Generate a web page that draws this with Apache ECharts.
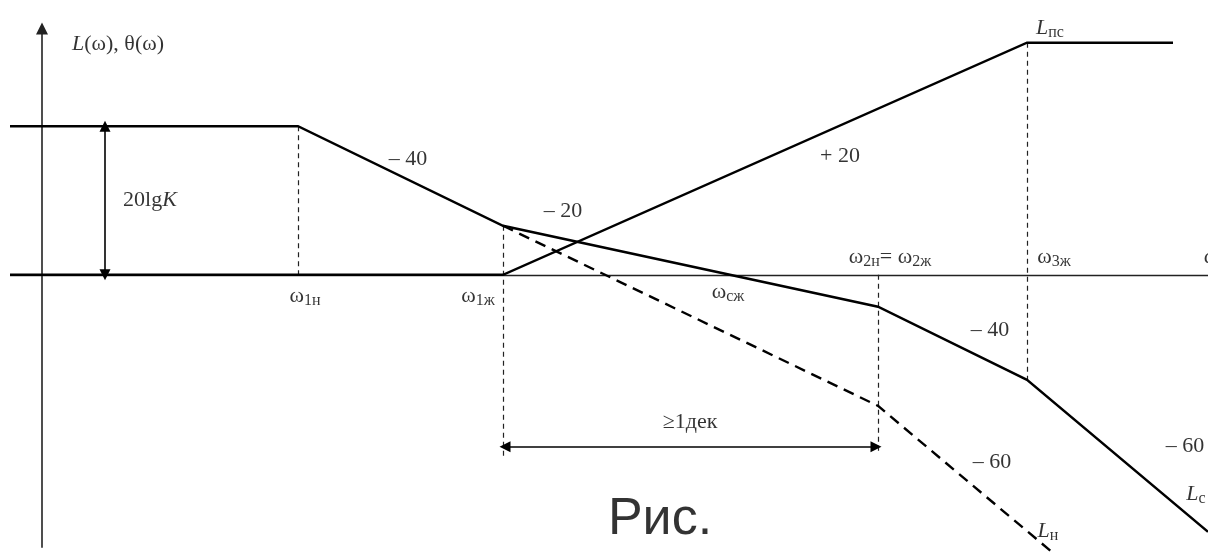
<!DOCTYPE html>
<html>
<head>
<meta charset="utf-8">
<script src="https://cdn.jsdelivr.net/npm/echarts@6/dist/echarts.min.js"></script>
<style>
html,body{margin:0;padding:0;background:#fff;}
#c{width:1208px;height:557px;}
</style>
</head>
<body>
<div id="c"></div>
<script>
// ---- data (x: log-frequency units, y: dB units) ----
const xMin = -0.42, xMax = 11.66, yMin = -76, yMax = 74;

// corrected system L_c
const lcX = [-0.32, 2.56, 4.61, 8.36, 9.85, 11.66];
const lcY = [40, 40, 13.2, -8.6, -28.3, -69.2];
// uncorrected L_н (dashed)
const lnX = [4.61, 8.36, 10.11];
const lnY = [13.2, -35.3, -74.9];
// corrector L_пс
const lpsX = [-0.32, 4.61, 9.85, 11.31];
const lpsY = [0, 0, 62.5, 62.5];

// break frequencies (dashed verticals): x, yTop, yBottom
const vX = [2.56, 4.61, 8.36, 9.85];
const vTop = [40, 13.2, 0, 62.5];
const vBot = [0, -49.5, -48.2, -28.3];

// axes
const axisV = [[0, -73.5], [0, 66.3]];
const axisH = [[-0.32, 0], [11.66, 0]];
// dimension arrows
const gainArrow = [[0.63, 0], [0.63, 40]];
const decadeArrow = [[4.63, -46.3], [8.34, -46.3]];

// text labels
const labelText = [
  '{i|L}{m|(ω), θ(ω)}', '{m|20lg}{i|K}', '{m|– 40}', '{m|– 20}', '{m|+ 20}',
  '{i|L}{s|пс}', '{m|ω}{s|2н}{m|= ω}{s|2ж}', '{m|ω}{s|3ж}', '{m|ω}',
  '{m|ω}{s|1н}', '{m|ω}{s|1ж}', '{m|ω}{s|сж}', '{m|– 40}', '{m|– 60}', '{m|– 60}',
  '{i|L}{s|н}', '{i|L}{s|с}', '{m|≥1дек}', '{r|Рис.}'
];
const labelX = [0.76, 1.08, 3.66, 5.21, 7.98, 10.08, 8.48, 10.12, 11.69,
  2.63, 4.36, 6.86, 9.48, 11.43, 9.5, 10.06, 11.54, 6.48, 6.18];
const labelY = [62, 20.2, 31.0, 17.0, 31.8, 66.5, 4.6, 4.6, 4.6,
  -5.9, -5.9, -4.6, -14.8, -46.3, -50.6, -69.0, -59.0, -39.6, -66.0];

// ---- build ----
const zip = (xs, ys) => xs.map((x, i) => [x, ys[i]]);
const verticals = vX.map((x, i) => ({ coords: [[x, vTop[i]], [x, vBot[i]]] }));
const labels = labelText.map((t, i) => ({ value: [labelX[i], labelY[i]], name: t }));

const serif = '"Liberation Serif", "Times New Roman", serif';
const rich = {
  m: { fontFamily: serif, fontSize: 22, lineHeight: 25, color: '#000' },
  i: { fontFamily: serif, fontSize: 22, lineHeight: 25, fontStyle: 'italic', color: '#000' },
  s: { fontFamily: serif, fontSize: 16, lineHeight: 16, padding: [10, 0, 0, 0], verticalAlign: 'bottom', color: '#000' },
  r: { fontFamily: '"Liberation Sans", Arial, sans-serif', fontSize: 52, lineHeight: 56, color: '#000' }
};

const chart = echarts.init(document.getElementById('c'), null, { renderer: 'canvas' });
chart.setOption({
  animation: false,
  backgroundColor: '#fff',
  grid: { left: 0, right: 0, top: 0, bottom: 0 },
  xAxis: { type: 'value', min: xMin, max: xMax, show: false },
  yAxis: { type: 'value', min: yMin, max: yMax, show: false },
  series: [
    { type: 'lines', coordinateSystem: 'cartesian2d', polyline: false, silent: true,
      lineStyle: { color: '#222', width: 1.6, opacity: 1 },
      symbol: ['none', 'triangle'], symbolSize: [0, 12],
      data: [{ coords: axisV }] },
    { type: 'lines', coordinateSystem: 'cartesian2d', silent: true,
      lineStyle: { color: '#222', width: 1.3, opacity: 1 },
      data: [{ coords: axisH }] },
    { type: 'lines', coordinateSystem: 'cartesian2d', silent: true,
      lineStyle: { color: '#222', width: 1.2, type: [5, 4], opacity: 1 },
      data: verticals },
    { type: 'lines', coordinateSystem: 'cartesian2d', silent: true,
      lineStyle: { color: '#000', width: 1.6, opacity: 1 },
      symbol: ['triangle', 'triangle'], symbolSize: [11, 11],
      data: [{ coords: gainArrow }, { coords: decadeArrow }] },
    { type: 'lines', coordinateSystem: 'cartesian2d', polyline: true, silent: true,
      lineStyle: { color: '#000', width: 2.4, opacity: 1 },
      data: [{ coords: zip(lcX, lcY) }, { coords: zip(lpsX, lpsY) }] },
    { type: 'lines', coordinateSystem: 'cartesian2d', polyline: true, silent: true,
      lineStyle: { color: '#000', width: 2.4, type: [11, 7], opacity: 1 },
      data: [{ coords: zip(lnX, lnY) }] },
    { type: 'scatter', clip: false, silent: true, symbolSize: 1,
      itemStyle: { color: 'rgba(0,0,0,0)' },
      label: { show: true, position: 'inside', formatter: p => p.name, rich: rich },
      data: labels }
  ]
});
</script>
</body>
</html>
